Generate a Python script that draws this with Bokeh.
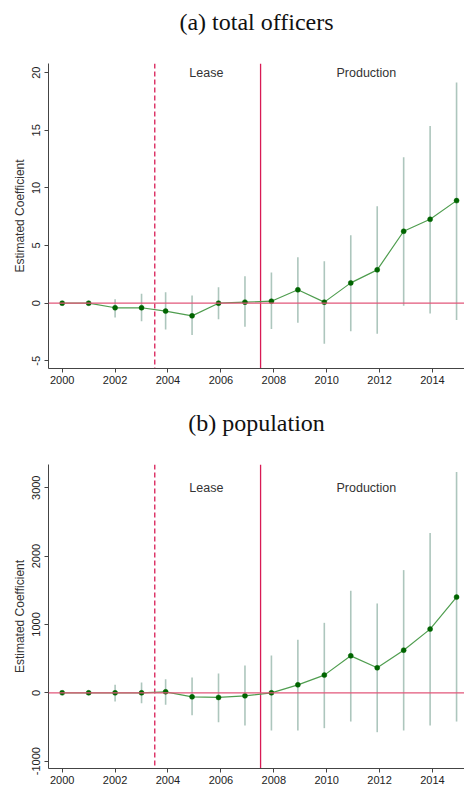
from bokeh.plotting import figure
from bokeh.layouts import column
from bokeh.models import Span, Label, FixedTicker, Range1d, ColumnDataSource, Title
from bokeh.embed import file_html
from bokeh.resources import INLINE

years = list(range(2000, 2016))
x_ticks = [2000, 2002, 2004, 2006, 2008, 2010, 2012, 2014]

officers_coef = [0, 0, -0.40, -0.40, -0.69, -1.10, 0.00, 0.09, 0.17, 1.16, 0.09, 1.76, 2.89, 6.24, 7.28, 8.90]
officers_hi = [0, 0, 0.35, 0.81, 0.95, 0.66, 1.39, 2.34, 2.66, 3.99, 3.64, 5.90, 8.41, 12.66, 15.38, 19.16]
officers_lo = [0, 0, -1.24, -1.56, -2.28, -2.77, -1.39, -2.05, -2.25, -1.70, -3.53, -2.43, -2.66, -0.23, -0.90, -1.45]
officers_yticks = [-5, 0, 5, 10, 15, 20]

pop_coef = [0, 0, 0, 0, 15, -59, -68, -44, 0, 117, 259, 541, 366, 624, 932, 1400]
pop_hi = [0, 0, 117, 151, 200, 224, 283, 400, 546, 776, 1024, 1493, 1307, 1795, 2337, 3229]
pop_lo = [0, 0, -127, -151, -176, -327, -429, -478, -551, -551, -517, -420, -576, -551, -478, -420]
pop_yticks = [-1000, 0, 1000, 2000, 3000]

lease_year = 2003.5
production_year = 2007.5


def make_panel(title, coef, lo, hi, yticks, yrange, label_y, height, border_top, border_bottom):
    p = figure(width=464, height=height, output_backend="svg", toolbar_location=None,
               x_range=Range1d(1999.482, 2015.21), y_range=Range1d(*yrange),
               min_border_left=48, min_border_right=0, min_border_top=border_top,
               min_border_bottom=border_bottom, title=None)
    # spacer closest to the frame, then the real title further out
    p.add_layout(Title(text=" ", text_font_size="11px", align="center"), "above")
    p.add_layout(Title(text=title, text_font="Liberation Serif", text_font_size="24px",
                       text_font_style="normal", align="center",
                       text_color="#111111"), "above")
    p.outline_line_color = None
    p.grid.visible = False
    p.background_fill_color = "white"
    p.border_fill_color = "white"

    xs = [y - 0.09 if y >= 2004 else y for y in years]
    src = ColumnDataSource(dict(x=xs, coef=coef, lo=lo, hi=hi))

    for xv, dash in ((lease_year, "5 3"), (production_year, "solid")):
        p.add_layout(Span(location=xv, dimension="height", line_color="#d81b55",
                          line_width=1.3, line_dash=dash, level="underlay"))

    p.segment(x0="x", y0="lo", x1="x", y1="hi", source=src, line_color="#adc6bd", line_width=1.6)
    p.add_layout(Span(location=0, dimension="width", line_color="#e2577a", line_width=1.3))
    p.line(x="x", y="coef", source=src, line_color="#4f9d4f", line_width=1.2)
    p.scatter(x="x", y="coef", source=src, size=5, marker="circle",
              fill_color="#006400", line_color="#006400", line_width=0.5)

    for txt, xv in (("Lease", 2005.45), ("Production", 2011.5)):
        p.add_layout(Label(x=xv, y=label_y, text=txt, text_align="center", text_baseline="middle",
                           text_font="Liberation Sans", text_font_size="12.5px", text_color="#333333"))

    p.xaxis.ticker = FixedTicker(ticks=x_ticks)
    p.yaxis.ticker = FixedTicker(ticks=yticks)
    p.yaxis.major_label_overrides = {t: str(t) for t in yticks}
    p.xaxis.minor_tick_line_color = None
    p.yaxis.minor_tick_line_color = None
    for ax in (p.xaxis, p.yaxis):
        ax.axis_line_color = "#444444"
        ax.major_tick_line_color = "#444444"
        ax.major_tick_out = 4
        ax.major_tick_in = 0
        ax.major_label_text_font = "Liberation Sans"
        ax.major_label_text_font_size = "11px"
        ax.major_label_text_color = "#222222"
    p.yaxis.major_label_orientation = "vertical"
    p.yaxis.major_label_standoff = 4
    p.xaxis.major_label_standoff = 3
    p.yaxis.axis_label = "Estimated Coefficient"
    p.yaxis.axis_label_text_font = "Liberation Sans"
    p.yaxis.axis_label_text_font_size = "12px"
    p.yaxis.axis_label_text_font_style = "normal"
    p.yaxis.axis_label_text_color = "#333333"
    p.yaxis.axis_label_standoff = 3
    return p


pa = make_panel("(a) total officers", officers_coef, officers_lo, officers_hi,
                officers_yticks, (-5.67, 20.8), 20, 400, 63, 32)
pb = make_panel("(b) population", pop_coef, pop_lo, pop_hi,
                pop_yticks, (-1107, 3340), 3000, 393, 64, 25)

layout = column(pa, pb, spacing=0)
open("out.html", "w").write(file_html(layout, INLINE))
